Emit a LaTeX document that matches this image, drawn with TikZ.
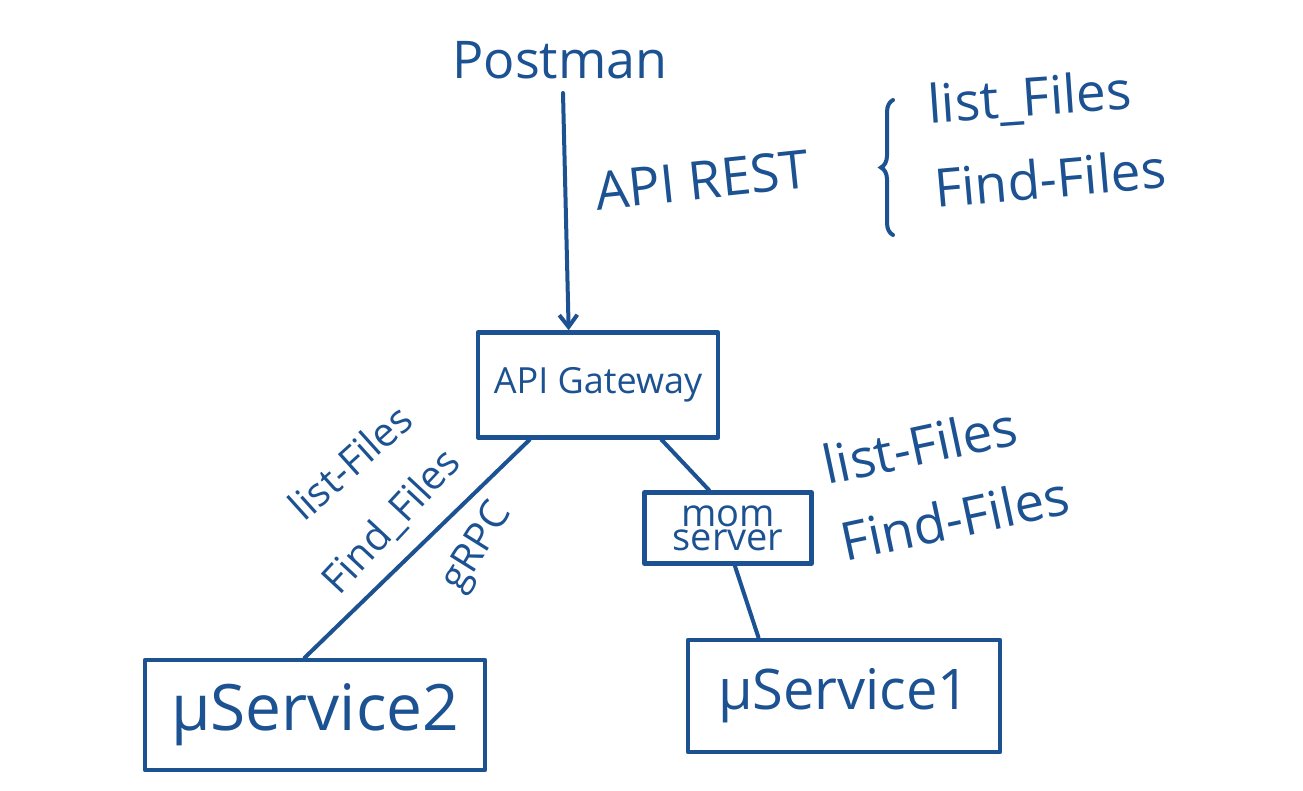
\documentclass[tikz,border=0pt]{standalone}
\usepackage{fontspec}
\setmainfont{Open Sans}
\usetikzlibrary{calc,decorations.pathreplacing,arrows.meta}
\definecolor{ink}{RGB}{28,82,146}
\tikzset{
  box/.style={draw=ink, line width=4.5pt, rectangle, inner sep=0pt, text=ink, line join=round},
  lbl/.style={text=ink, inner sep=0pt, font=\fontsize{53}{58}\selectfont},
  wire/.style={draw=ink, line width=4pt, line cap=round},
}
\begin{document}
\begin{tikzpicture}[x=1pt,y=-1pt]
\useasboundingbox[fill=white] (0,0) rectangle (1303,791);
% nodes
\node[lbl, font=\fontsize{52}{56}\selectfont] (pm) at (560,60) {Postman};
\node[box, minimum width=240pt, minimum height=105pt, font=\fontsize{36}{40}\selectfont] (gw) at (598,385) {API Gateway};
\node[box, minimum width=167pt, minimum height=71pt, align=center, font=\fontsize{38}{26}\selectfont] (mom) at (728,528) {mom\\[-2pt]server};
\node[box, minimum width=340pt, minimum height=110pt, font=\fontsize{64}{70}\selectfont] (s2) at (315,715) {μService2};
\node[box, minimum width=312pt, minimum height=112pt, font=\fontsize{56}{60}\selectfont] (s1) at (844,696) {μService1};
% labels
\node[lbl, rotate=6] (rest) at (702,180) {API REST};
\node[lbl, rotate=4] (lf1) at (1030,100) {list\_Files};
\node[lbl, rotate=5] (ff1) at (1050,178) {Find-Files};
\node[lbl, rotate=42, font=\fontsize{40}{44}\selectfont] (lf2) at (350,462) {list-Files};
\node[lbl, rotate=47, font=\fontsize{40}{44}\selectfont] (ff2) at (392,522) {Find\_Files};
\node[lbl, rotate=58, font=\fontsize{40}{44}\selectfont] (grpc) at (478,548) {gRPC};
\node[lbl, rotate=12] (lf3) at (920,445) {list-Files};
\node[lbl, rotate=12] (ff3) at (955,518) {Find-Files};
% brace
\coordinate (bb) at (893,235);
\coordinate (bt) at (893,100);
\draw[ink, line width=4pt, line cap=round, decorate, decoration={brace, amplitude=12pt}] (bb) -- (bt);
% connectors
\coordinate (pa) at ($(pm.south)+(3,14)$);
\coordinate (pb) at ($(gw.north west)!0.38!(gw.north east)$);
\draw[wire, -{Straight Barb[length=12pt,width=18pt,line width=4pt]}] (pa) -- (pb);
\draw[wire] ($(gw.south west)!0.22!(gw.south east)$) -- ($(s2.north west)!0.47!(s2.north east)$);
\draw[wire] ($(gw.south west)!0.76!(gw.south east)$) -- ($(mom.north west)!0.39!(mom.north east)$);
\draw[wire] ($(mom.south west)!0.54!(mom.south east)$) -- ($(s1.north west)!0.23!(s1.north east)$);
\end{tikzpicture}
\end{document}
